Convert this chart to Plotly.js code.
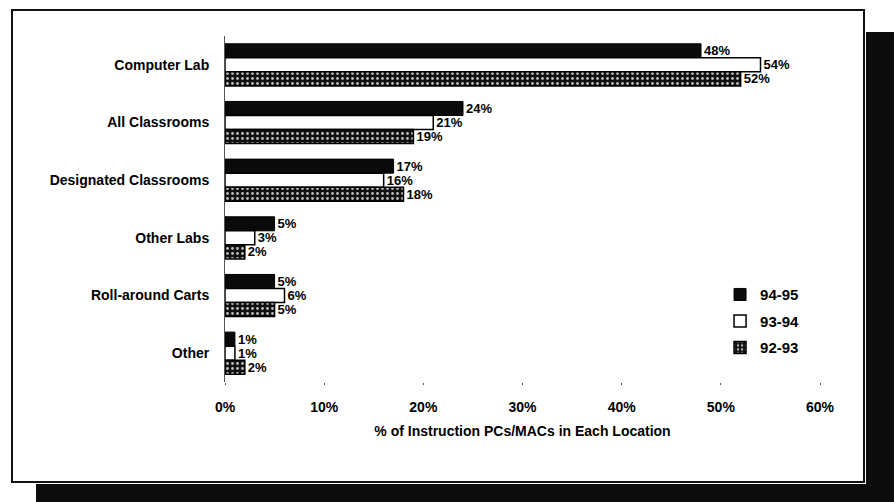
<!DOCTYPE html>
<html><head><meta charset="utf-8">
<script src="https://cdn.plot.ly/plotly-3.0.1.min.js"></script>
<style>
html,body{margin:0;padding:0;background:#fff;width:894px;height:502px;overflow:hidden;position:relative;}
#darkR{position:absolute;left:866px;top:32px;width:28px;height:470px;background:#0d0d0d;}
#darkB{position:absolute;left:36px;top:484px;width:858px;height:18px;background:#0d0d0d;}
#frame{position:absolute;left:11px;top:9px;width:850px;height:470px;border:2px solid #111;background:#fff;}
#chart{position:absolute;left:0;top:0;width:894px;height:502px;}
</style></head>
<body>
<div id="darkR"></div><div id="darkB"></div><div id="frame"></div>
<div id="chart"></div>
<script>
const categories = ["Computer Lab","All Classrooms","Designated Classrooms","Other Labs","Roll-around Carts","Other"];
const v9495 = [48,24,17,5,5,1];
const v9394 = [54,21,16,3,6,1];
const v9293 = [52,19,18,2,5,2];
const seriesNames = ["94-95","93-94","92-93"];

const F = "Liberation Sans, Arial, sans-serif";
const common = {
  type:'bar', orientation:'h', y:categories,
  texttemplate:'%{x}', textposition:'outside', constraintext:'none', cliponaxis:false,
  textfont:{family:F, size:13, color:'#000', weight:'bold'}
};
const traces = [
  Object.assign({}, common, {x:v9495, name:seriesNames[0], legendgroup:'a',
    marker:{color:'#0a0a0a', line:{color:'#000', width:1}}}),
  Object.assign({}, common, {x:v9394, name:seriesNames[1], legendgroup:'b',
    marker:{color:'#ffffff', line:{color:'#000', width:1.5}}}),
  Object.assign({}, common, {x:v9293, name:seriesNames[2], legendgroup:'c',
    marker:{color:'#111', line:{color:'#000', width:1.5},
      pattern:{shape:'.', fgcolor:'#bbb', bgcolor:'#111', size:5, solidity:0.25}}})
];
const layout = {
  width:894, height:502,
  margin:{l:225, r:74, t:36, b:120},
  paper_bgcolor:'rgba(0,0,0,0)', plot_bgcolor:'rgba(0,0,0,0)',
  barmode:'group', bargap:0.27, bargroupgap:0,
  font:{family:F, color:'#000', weight:'bold'},
  xaxis:{range:[0,60], dtick:10, ticksuffix:'%', showgrid:false, zeroline:false,
    showline:false, ticks:'outside', ticklen:2, tickcolor:'#555', ticklabelstandoff:10,
    tickfont:{family:F, size:14, weight:'bold'},
    title:{text:'% of Instruction PCs/MACs in Each Location', standoff:12,
      font:{family:F, size:14, weight:'bold'}}},
  yaxis:{autorange:'reversed', showgrid:false, zeroline:false, showline:true,
    linecolor:'#555', linewidth:1, ticks:'', ticklabelstandoff:12,
    tickfont:{family:F, size:14, weight:'bold'}},
  legend:{x:0.832, y:0.30, xanchor:'left', yanchor:'top', bgcolor:'rgba(0,0,0,0)',
    font:{family:F, size:15, weight:'bold'}, tracegroupgap:4, itemwidth:30},
  showlegend:true
};
Plotly.newPlot('chart', traces, layout, {displayModeBar:false, staticPlot:true});
</script>
</body></html>
